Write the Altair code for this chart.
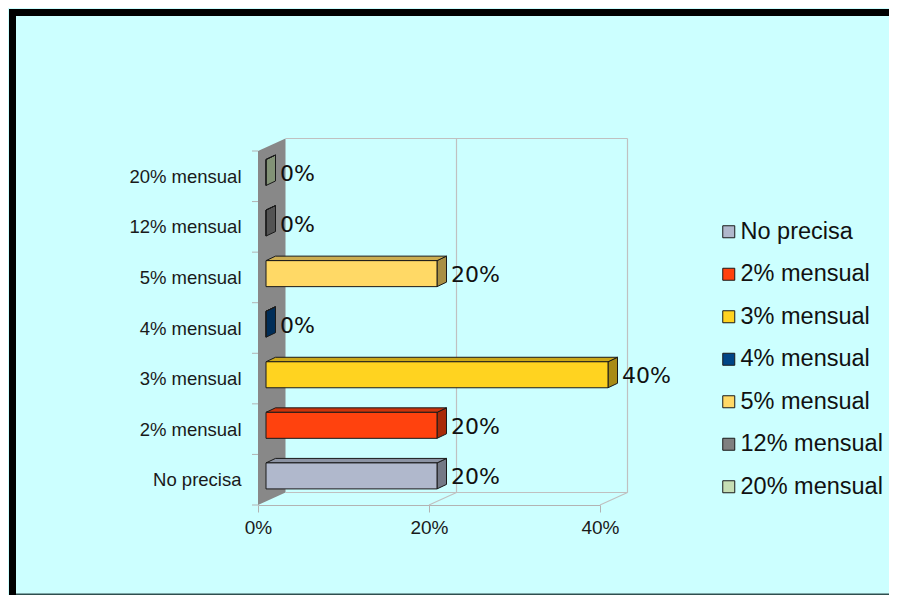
import altair as alt
import pandas as pd

# ---------------- data ----------------
categories = ["No precisa", "2% mensual", "3% mensual", "4% mensual",
              "5% mensual", "12% mensual", "20% mensual"]
values = [20, 20, 40, 0, 20, 0, 0]
colors = ["#B0B8CC", "#FF420E", "#FFD320", "#004586",
          "#FFD966", "#808080", "#C6DEB4"]
x_ticks = [0, 20, 40]

# ---------------- geometry (pixels) ----------------
W, H = 342, 354            # front plane of the plot
PAD_L, PAD_T = 250, 143
TOTAL_W, TOTAL_H = 881, 587
XMAX, NCAT = 40, len(categories)
PX_X = W / XMAX
PX_Y = H / NCAT

DXF, DYF = 27.5 / PX_X, 12.5 / PX_Y      # full depth of the 3D box
OX, OY = 8.0 / PX_X, 3.8 / PX_Y          # bar front offset inside the box
DXB, DYB = 9.5 / PX_X, 4.5 / PX_Y        # bar depth
HH = 13.0 / PX_Y                         # bar half height


def shade(hx, f):
    h = hx.lstrip("#")
    r, g, b = (int(h[i:i + 2], 16) for i in (0, 2, 4))
    return "#%02X%02X%02X" % (int(r * f), int(g * f), int(b * f))


front, top, side, labels = [], [], [], []
for i, (c, v, col) in enumerate(zip(categories, values, colors)):
    yc = i + 0.5 + OY
    x0, x1 = OX, OX + v
    yb, yt = yc - HH, yc + HH
    front.append(dict(cat=c, x=x0, x2=x1, y=yb, y2=yt))
    top.append(dict(cat=c, y=yt, x=x0, x2=x1, fc=shade(col, 0.8)))
    top.append(dict(cat=c, y=yt + DYB, x=x0 + DXB, x2=x1 + DXB, fc=shade(col, 0.8)))
    side.append(dict(cat=c, x=x1, y=yb, y2=yt, fc=shade(col, 0.66)))
    side.append(dict(cat=c, x=x1 + DXB, y=yb + DYB, y2=yt + DYB, fc=shade(col, 0.66)))
    labels.append(dict(cat=c, x=x1 + DXB, y=yc, t=f"{v}%"))

front_df = pd.DataFrame(front)
top_df = pd.DataFrame(top)
side_df = pd.DataFrame(side)
label_df = pd.DataFrame(labels)

wall_df = pd.DataFrame([dict(x=0, y=0, y2=NCAT), dict(x=DXF, y=DYF, y2=NCAT + DYF)])
seg = [
    dict(x=DXF, y=NCAT + DYF, x2=XMAX + DXF, y2=NCAT + DYF),
    dict(x=DXF, y=DYF, x2=XMAX + DXF, y2=DYF),
]
for t in x_ticks[1:]:
    seg.append(dict(x=t + DXF, y=DYF, x2=t + DXF, y2=NCAT + DYF))
    seg.append(dict(x=t, y=0, x2=t + DXF, y2=DYF))
seg_df = pd.DataFrame(seg)
ytick_df = pd.DataFrame(dict(k=list(range(NCAT + 1))))

# ---------------- scales / axes ----------------
xs = alt.Scale(domain=[0, XMAX], nice=False, zero=False)
ys = alt.Scale(domain=[0, NCAT], nice=False, zero=False)
names_js = "[" + ",".join("'" + c + "'" for c in categories) + "]"
x_axis = alt.Axis(values=x_ticks, labelExpr="datum.value + '%'", grid=False,
                  title=None, tickSize=7, labelPadding=6, domainColor="#B3B3B3",
                  tickColor="#B3B3B3", labelFontSize=19, labelColor="#1A1A1A",
                  labelFont="Liberation Sans", labelFlush=False)
y_axis = alt.Axis(values=[i + 0.5 for i in range(NCAT)],
                  labelExpr=names_js + "[floor(datum.value)]", grid=False,
                  title=None, ticks=False, domain=False, labelPadding=17,
                  labelFontSize=18.5, labelColor="#1A1A1A",
                  labelFont="Liberation Sans", labelFlush=False)


def X(f):
    return alt.X(f, scale=xs, axis=x_axis, stack=None)


def Y(f):
    return alt.Y(f, scale=ys, axis=y_axis, stack=None)


one = pd.DataFrame(dict(a=[0]))

# decorative frame of the original picture
frame_top = alt.Chart(one).mark_rect(color="#000000").encode(
    x=alt.value(1 - PAD_L), x2=alt.value(TOTAL_W - PAD_L),
    y=alt.value(1 - PAD_T), y2=alt.value(8 - PAD_T))
frame_left = alt.Chart(one).mark_rect(color="#000000").encode(
    x=alt.value(1 - PAD_L), x2=alt.value(8 - PAD_L),
    y=alt.value(1 - PAD_T), y2=alt.value(TOTAL_H - PAD_T))
frame_bottom = alt.Chart(one).mark_rect(color="#2F4F4F").encode(
    x=alt.value(8 - PAD_L), x2=alt.value(TOTAL_W - PAD_L),
    y=alt.value(TOTAL_H - 1.5 - PAD_T), y2=alt.value(TOTAL_H - PAD_T))

wall = alt.Chart(wall_df).mark_area(orient="vertical", color="#888888").encode(
    x=X("x:Q"), y=Y("y:Q"), y2="y2:Q")

grid = alt.Chart(seg_df).mark_rule(color="#C0C0C0", strokeWidth=1.2).encode(
    x=X("x:Q"), y=Y("y:Q"), x2="x2:Q", y2="y2:Q")

yticks = alt.Chart(ytick_df).mark_rule(color="#B3B3B3").encode(
    x=alt.value(-6), x2=alt.value(0), y=Y("k:Q"))

sides = alt.Chart(side_df).mark_area(orient="vertical", stroke="#1A1A1A",
                                     strokeWidth=1).encode(
    x=X("x:Q"), y=Y("y:Q"), y2="y2:Q",
    fill=alt.Fill("fc:N", scale=None), detail="cat:N")

tops = alt.Chart(top_df).mark_area(orient="horizontal", stroke="#1A1A1A",
                                   strokeWidth=1).encode(
    y=Y("y:Q"), x=X("x:Q"), x2="x2:Q",
    fill=alt.Fill("fc:N", scale=None), detail="cat:N")

fronts = alt.Chart(front_df).mark_rect(stroke="#1A1A1A", strokeWidth=1).encode(
    x=X("x:Q"), x2="x2:Q", y=Y("y:Q"), y2="y2:Q",
    color=alt.Color("cat:N", sort=categories,
                    scale=alt.Scale(domain=categories, range=colors),
                    legend=alt.Legend(orient="none", legendX=459, legendY=69,
                                      title=None, symbolType="square",
                                      symbolSize=144, symbolStrokeColor="#1A1A1A",
                                      symbolStrokeWidth=1, labelFontSize=23.5,
                                      labelFont="Liberation Sans",
                                      labelColor="#111111", rowPadding=17.5,
                                      labelOffset=0, padding=0)))

texts = alt.Chart(label_df).mark_text(align="left", baseline="middle", dx=4.5,
                                      dy=1.5, font="DejaVu Sans", fontSize=22,
                                      color="#111111").encode(
    x=X("x:Q"), y=Y("y:Q"), text="t:N")

chart = alt.layer(frame_top, frame_left, frame_bottom, wall, grid, yticks,
                  sides, tops, fronts, texts).properties(
    width=W, height=H,
    padding={"left": PAD_L, "top": PAD_T, "right": TOTAL_W - PAD_L - W,
             "bottom": TOTAL_H - PAD_T - H},
    autosize=alt.AutoSizeParams(type="none"),
    background="#CCFFFF",
).configure_view(stroke="transparent")

chart.save("out.html", embed_options={"renderer": "svg", "actions": False})
